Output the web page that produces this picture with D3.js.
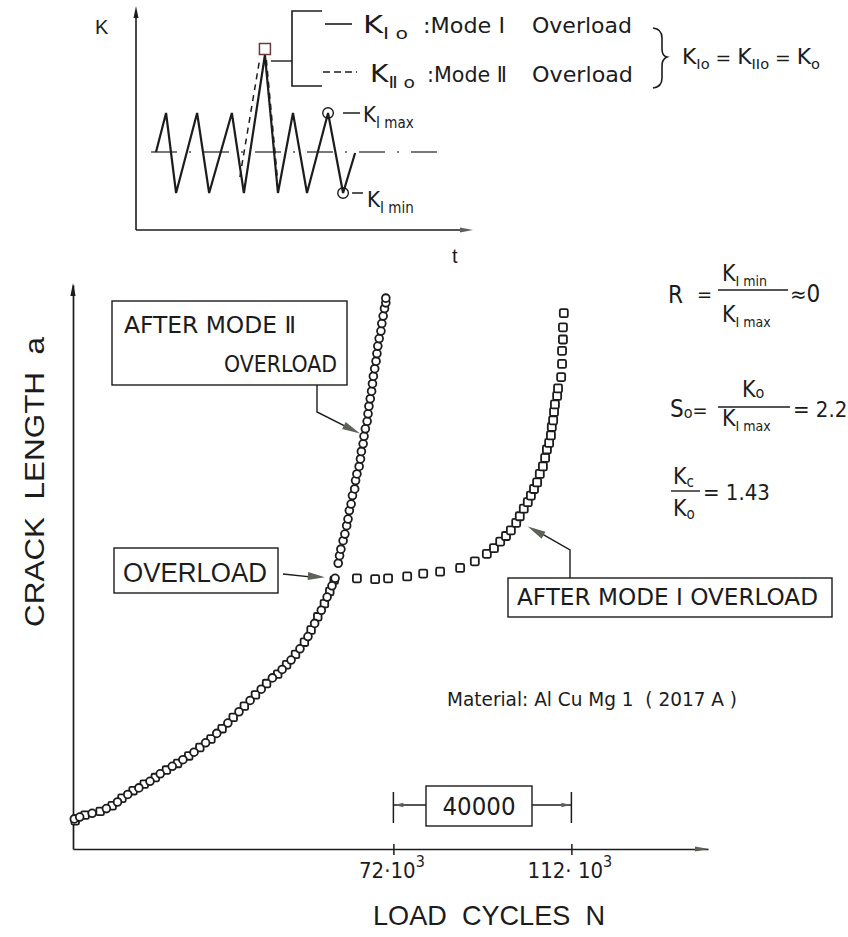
<!DOCTYPE html>
<html>
<head>
<meta charset="utf-8">
<script src="https://cdn.jsdelivr.net/npm/d3@7"></script>
<style>
body { margin: 0; background: #fff; }
svg text { white-space: pre; }
</style>
</head>
<body>
<script>
// ---- data (N in 10^3 load cycles, a = crack length, arbitrary units) ----
// common curve before the overload, Mode I specimen (squares)
var baseModeI = [[0.5,3.0],[2.7,3.6],[6.1,4.0],[8.8,4.6],[11.0,5.4],[13.5,6.2],[16.0,6.9],[18.5,7.6],
  [21.0,8.4],[23.5,9.1],[26.0,9.9],[28.5,10.8],[31.0,11.7],[33.5,12.8],[36.0,14.0],[38.5,15.2],
  [41.0,16.4],[43.5,17.6],[46.0,18.6],[48.0,19.6],[50.0,20.7],[52.0,22.0],[53.5,23.3],[55.0,24.7],
  [56.5,26.1],[57.7,27.4],[58.7,28.6]];
// common curve before the overload, Mode II specimen (circles)
var baseModeII = [[0.3,3.2],[1.5,3.4],[4.3,3.8],[7.5,4.3],[10.0,5.0],[12.3,5.8],[14.8,6.5],[17.3,7.2],
  [19.6,8.0],[22.3,8.8],[24.7,9.5],[27.2,10.3],[29.8,11.3],[32.3,12.3],[34.8,13.4],[37.3,14.6],
  [39.8,15.8],[42.3,17.0],[44.8,18.2],[47.0,19.1],[49.0,20.1],[51.0,21.3],[52.8,22.6],[54.3,24.0],
  [55.8,25.4],[57.1,26.8],[58.2,28.0],[58.9,28.8]];
// after Mode II overload (circles)
var afterModeII = [[59.6,30.4],[59.9,31.2],[60.2,31.9],[60.7,32.8],[61.1,33.5],[61.5,34.4],[61.8,35.1],
  [62.1,36.0],[62.5,36.7],[62.8,37.6],[63.3,38.3],[63.5,39.2],[63.8,39.9],[64.3,40.7],[64.6,41.5],
  [64.8,42.3],[65.2,43.1],[65.4,43.9],[65.7,44.7],[66.1,45.5],[66.3,46.3],[66.5,47.1],[66.8,47.9],
  [67.1,48.7],[67.3,49.5],[67.5,50.3],[67.8,51.1],[68.1,51.9],[68.3,52.7],[68.5,53.5],[68.8,54.3],
  [69.2,55.1],[69.4,55.9],[69.7,56.7],[70.0,57.5],[70.3,58.1],[70.3,58.6]];
// after Mode I overload (squares)
var afterModeI = [[63.8,28.8],[67.9,28.7],[70.8,28.8],[75.1,29.0],[78.7,29.3],[82.5,29.5],[87.0,29.9],
  [90.3,30.6],[93.0,31.4],[94.6,32.0],[96.0,32.7],[97.3,33.3],[98.4,33.9],[99.6,34.7],[100.4,35.4],
  [101.3,36.2],[102.2,36.9],[102.9,37.6],[103.6,38.3],[104.3,39.0],[104.9,39.9],[105.6,40.7],
  [106.1,41.6],[106.5,42.5],[107.0,43.2],[107.4,44.0],[107.6,44.9],[107.9,45.6],[108.1,46.5],
  [108.3,47.3],[108.8,48.2],[109.0,49.0],[109.7,50.2],[109.9,51.6],[109.9,53.0],[110.1,54.2],
  [110.1,55.5],[110.3,57.0]];

var tickN = [72, 112];
var tickLabels = ["72·10", "112· 10"];
var spanLabel = "40000";

// inset: K(t) loading sequence, t and K in arbitrary units
var wave = [[0.6,3.9],[0.9,5.85],[1.2,1.85],[1.83,5.85],[2.19,1.85],[2.87,5.85],[3.23,1.85],[3.86,8.75],
  [4.25,1.85],[4.70,5.85],[5.12,1.85],[5.75,5.85],[6.2,1.85],[6.56,3.85]];
var overloadModeII = [[[3.11,2.65],[3.71,8.6]], [[3.89,8.5],[4.22,2.6]]];
var meanK = 3.9, meanT = [0.45, 9.22];
var kmaxPt = [5.75, 5.85], kminPt = [6.2, 1.85], k0Pt = [3.86, 9.05];

// annotation tips (data units)
var tipOverload = [56.6, 28.9], tipAfterII = [64.5, 44.2], tipAfterI = [102.2, 34.3];

var ink = "#1c1c1c", headFill = "#5d6259";
var tech = '"DejaVu Sans Condensed","Liberation Sans Narrow","DejaVu Sans",sans-serif';
var plain = '"Liberation Sans",Arial,sans-serif';

var svg = d3.select("body").append("svg")
    .attr("width", 848).attr("height", 937)
    .style("background", "#fff");

var x = d3.scaleLinear().domain([0, 142.7]).range([73, 708]);
var y = d3.scaleLinear().domain([0, 60]).range([849, 285]);
var ts = d3.scaleLinear().domain([0, 10]).range([136, 470]);
var ks = d3.scaleLinear().domain([0, 11]).range([230, 10]);

function head(x1, y1, x2, y2, len, half, fill) {
    var dx = x2 - x1, dy = y2 - y1, L = Math.sqrt(dx * dx + dy * dy);
    var ux = dx / L, uy = dy / L, bx = x2 - ux * len, by = y2 - uy * len;
    svg.append("path")
        .attr("d", "M" + x2 + "," + y2 + "L" + (bx - uy * half) + "," + (by + ux * half) +
                   "L" + (bx + uy * half) + "," + (by - ux * half) + "Z")
        .attr("fill", fill || ink);
}
function line(pts, w, dash) {
    return svg.append("path").attr("d", d3.line()(pts)).attr("fill", "none")
        .attr("stroke", ink).attr("stroke-width", w || 1.5)
        .attr("stroke-dasharray", dash || null);
}
function rich(x0, y0, parts, opts) {
    opts = opts || {};
    var t = svg.append("text").attr("x", x0).attr("y", y0)
        .attr("font-family", opts.font || tech).attr("fill", ink)
        .attr("text-anchor", opts.anchor || "start");
    if (opts.len) t.attr("textLength", opts.len).attr("lengthAdjust", "spacingAndGlyphs");
    parts.forEach(function(p) {
        t.append("tspan").attr("font-size", p[1]).attr("dy", p[2] || 0).text(p[0]);
    });
    return t;
}

// ---------------- main chart ----------------
var yAxis = svg.append("g").attr("transform", "translate(" + x(0) + ",0)")
    .call(d3.axisLeft(y).tickValues([]).tickSizeOuter(0));
yAxis.select(".domain").attr("stroke", ink).attr("stroke-width", 1.7);
head(x(0), y(5), x(0), 283, 13, 2.6);

var xAxis = svg.append("g").attr("transform", "translate(0," + y(0) + ")")
    .call(d3.axisBottom(x).tickValues(tickN).tickSizeOuter(0).tickSizeInner(6).tickFormat(""));
xAxis.select(".domain").attr("stroke", ink).attr("stroke-width", 1.7);
xAxis.selectAll(".tick line").attr("y1", -5).attr("stroke", ink).attr("stroke-width", 1.5);
xAxis.selectAll(".tick").append("text")
    .attr("fill", ink).attr("font-family", tech).attr("text-anchor", "middle")
    .attr("x", -2).attr("y", 29)
    .each(function(d, i) {
        var t = d3.select(this);
        t.append("tspan").attr("font-size", 22).text(tickLabels[i]);
        t.append("tspan").attr("font-size", 16).attr("dy", -11).text("3");
    });
head(x(130), y(0), x(142.7) + 1, y(0), 14, 2.6, headFill);

// markers
var pts = svg.append("g").attr("fill", "#fff").attr("stroke", ink).attr("stroke-width", 1.8);
pts.selectAll(".sqA").data(baseModeI).join("rect")
    .attr("x", d => x(d[0]) - 3.8).attr("y", d => y(d[1]) - 3.8)
    .attr("width", 7.6).attr("height", 7.6).attr("rx", 1.5);
pts.selectAll(".ciA").data(baseModeII).join("circle")
    .attr("cx", d => x(d[0])).attr("cy", d => y(d[1])).attr("r", 3.9);
pts.selectAll(".sqB").data(afterModeI).join("rect")
    .attr("x", d => x(d[0]) - 4).attr("y", d => y(d[1]) - 4)
    .attr("width", 8).attr("height", 8).attr("rx", 1.5);
pts.selectAll(".ciB").data(afterModeII).join("circle")
    .attr("cx", d => x(d[0])).attr("cy", d => y(d[1])).attr("r", 3.9);

// box: AFTER MODE II OVERLOAD
svg.append("rect").attr("x", 112).attr("y", 301).attr("width", 235).attr("height", 84)
    .attr("fill", "#fff").attr("stroke", ink).attr("stroke-width", 1.4);
rich(124, 333, [["AFTER MODE Ⅱ", 23]], {len: 172});
rich(337, 372, [["OVERLOAD", 23]], {anchor: "end", len: 113});
line([[317, 385], [317, 412], [x(tipAfterII[0]) - 12, y(tipAfterII[1]) - 6]], 1.4);
head(317, 412, x(tipAfterII[0]), y(tipAfterII[1]), 18, 4, headFill);

// box: OVERLOAD
svg.append("rect").attr("x", 114).attr("y", 548).attr("width", 164).attr("height", 45)
    .attr("fill", "#fff").attr("stroke", ink).attr("stroke-width", 1.4);
rich(123, 582, [["OVERLOAD", 27]], {font: plain, len: 144});
line([[283, 574], [x(tipOverload[0]) - 10, y(tipOverload[1])]], 1.4);
head(283, 574, x(tipOverload[0]), y(tipOverload[1]), 17, 4, headFill);

// box: AFTER MODE I OVERLOAD
svg.append("rect").attr("x", 508).attr("y", 578).attr("width", 324).attr("height", 39)
    .attr("fill", "#fff").attr("stroke", ink).attr("stroke-width", 1.4);
rich(517, 605, [["AFTER MODE I OVERLOAD", 23]], {len: 301});
line([[570, 578], [570, 550], [x(tipAfterI[0]) + 12, y(tipAfterI[1]) + 6]], 1.4);
head(570, 550, x(tipAfterI[0]), y(tipAfterI[1]), 18, 4, headFill);

// material
rich(447, 706, [["Material: Al Cu Mg 1  ( 2017 A )", 20]], {len: 290});

// 40000 dimension
var dimY = 805;
tickN.forEach(function(n) { line([[x(n), 792], [x(n), 823]], 1.5); });
line([[x(tickN[0]), dimY], [426, dimY]], 1.3);
line([[532, dimY], [x(tickN[1]), dimY]], 1.3);
head(x(tickN[0]) + 12, dimY, x(tickN[0]) + 1, dimY, 9, 2.3, headFill);
head(x(tickN[1]) - 12, dimY, x(tickN[1]) - 1, dimY, 9, 2.3, headFill);
svg.append("rect").attr("x", 426).attr("y", 786).attr("width", 106).attr("height", 40)
    .attr("fill", "#fff").attr("stroke", ink).attr("stroke-width", 1.4);
rich(479, 815, [[spanLabel, 24]], {anchor: "middle", len: 73});

// axis titles
rich(489, 925, [["LOAD  CYCLES  N", 28]], {font: plain, anchor: "middle", len: 232});
rich(0, 0, [["CRACK  LENGTH  a", 28]], {font: plain, anchor: "middle", len: 290})
    .attr("transform", "translate(44,482) rotate(-90)");

// right-hand formulas
rich(668, 303, [["R", 24]]);
rich(697, 301, [["=", 20]]);
rich(722, 281, [["K", 23], ["I min", 14, 5]]);
line([[718, 290], [788, 290]], 1.4);
rich(722, 322, [["K", 23], ["I max", 14, 5]]);
rich(790, 302, [["≈", 22], ["0", 24]]);

rich(670, 417, [["S", 24], ["o", 16, 1], ["=", 20, -1]]);
rich(742, 397, [["K", 23], ["o", 16, 1]]);
line([[718, 407], [790, 407]], 1.4);
rich(722, 426, [["K", 23], ["I max", 14, 5]]);
rich(793, 417, [["= 2.2", 22]]);

rich(673, 484, [["K", 23], ["c", 15, 3]]);
line([[671, 491], [700, 491]], 1.4);
rich(673, 516, [["K", 23], ["o", 15, 3]]);
rich(703, 500, [["= 1.43", 22]]);

// ---------------- inset: loading sequence ----------------
line([[ts(0), ks(0)], [ts(0), ks(10.6)]], 1.6);
head(ts(0), ks(9), ts(0), 6, 12, 2.5);
line([[ts(0), ks(0)], [ts(9.8), ks(0)]], 1.6);
head(ts(9), ks(0), 473, ks(0), 13, 2.5, headFill);
rich(95, 34, [["K", 20]], {font: plain});
rich(452, 263, [["t", 20]], {font: plain});

svg.append("path").attr("d", d3.line()([[ts(meanT[0]), ks(meanK)], [ts(meanT[1]), ks(meanK)]]))
    .attr("stroke", "#4a4f47").attr("stroke-width", 1.5).attr("stroke-dasharray", "26,12,2,12");
svg.append("path").attr("d", d3.line().x(d => ts(d[0])).y(d => ks(d[1]))(wave))
    .attr("fill", "none").attr("stroke", ink).attr("stroke-width", 2.2).attr("stroke-linejoin", "miter");
overloadModeII.forEach(function(seg, i) {
    svg.append("path").attr("d", d3.line().x(d => ts(d[0])).y(d => ks(d[1]))(seg))
        .attr("fill", "none").attr("stroke", ink).attr("stroke-width", i ? 2.4 : 1.5)
        .attr("stroke-dasharray", "6,5");
});
svg.append("rect").attr("x", ts(k0Pt[0]) - 5.5).attr("y", ks(k0Pt[1]) - 5.5)
    .attr("width", 11).attr("height", 11).attr("fill", "none")
    .attr("stroke", "#6a3a3a").attr("stroke-width", 1.5);
svg.append("circle").attr("cx", ts(kmaxPt[0])).attr("cy", ks(kmaxPt[1])).attr("r", 5.3)
    .attr("fill", "none").attr("stroke", ink).attr("stroke-width", 1.4);
svg.append("circle").attr("cx", ts(kminPt[0])).attr("cy", ks(kminPt[1])).attr("r", 5.3)
    .attr("fill", "none").attr("stroke", ink).attr("stroke-width", 1.4);

// bracket legend
line([[ts(k0Pt[0]) + 6, 61], [292, 61]], 1.4);
line([[322, 11], [292, 11], [292, 86], [322, 86]], 1.6);
line([[325, 24], [352, 24]], 1.6);
line([[323, 72], [357, 72]], 1.5, "7,4");
rich(363, 33, [["K", 24], ["I o", 16, 6]], {len: 45});
rich(423, 33, [[":Mode I", 21]], {len: 82});
rich(532, 33, [["Overload", 21]], {len: 100});
rich(370, 82, [["K", 24], ["Ⅱ o", 16, 6]], {len: 45});
rich(427, 82, [[":Mode Ⅱ", 21]], {len: 80});
rich(532, 82, [["Overload", 21]], {len: 101});
svg.append("path")
    .attr("d", "M653,28 Q662,29 662,38 L662,49 Q662,56 667,57 Q662,59 662,66 L662,78 Q662,87 653,88")
    .attr("fill", "none").attr("stroke", ink).attr("stroke-width", 1.6);
rich(682, 64, [["K", 21], ["Io", 14, 5], [" = ", 18, -5], ["K", 21], ["IIo", 14, 5],
               [" = ", 18, -5], ["K", 21], ["o", 14, 5]], {len: 138});

// K_I max / K_I min labels
line([[ts(kmaxPt[0]) + 15, ks(kmaxPt[1])], [360, ks(kmaxPt[1])]], 1.5);
rich(363, 122, [["K", 22], ["I max", 15, 6]]);
line([[ts(kminPt[0]) + 9, ks(kminPt[1])], [363, ks(kminPt[1])]], 1.5);
rich(367, 207, [["K", 22], ["I min", 15, 6]]);
</script>
</body>
</html>
